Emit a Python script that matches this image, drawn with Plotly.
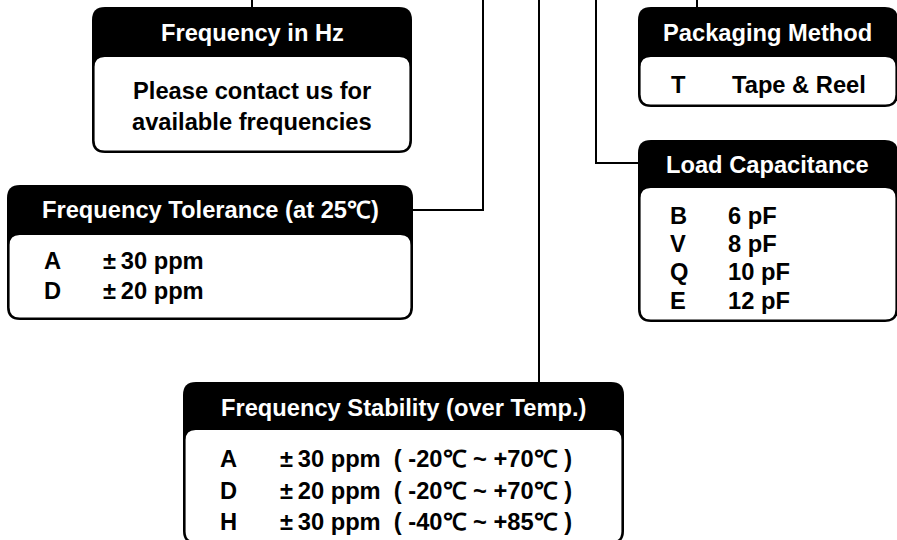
import plotly.graph_objects as go

# ---- content ----
freq_title = "Frequency in Hz"
freq_lines = ["Please contact us for", "available frequencies"]

tol_title = "Frequency Tolerance (at 25℃)"
tol_codes = ["A", "D"]
tol_values = ["±\u200930 ppm", "±\u200920 ppm"]

pack_title = "Packaging Method"
pack_codes = ["T"]
pack_values = ["Tape & Reel"]

load_title = "Load Capacitance"
load_codes = ["B", "V", "Q", "E"]
load_values = ["6 pF", "8 pF", "10 pF", "12 pF"]

stab_title = "Frequency Stability (over Temp.)"
stab_codes = ["A", "D", "H"]
stab_values = ["±\u200930 ppm  ( -20℃ ~ +70℃ )",
               "±\u200920 ppm  ( -20℃ ~ +70℃ )",
               "±\u200930 ppm  ( -40℃ ~ +85℃ )"]

# ---- layout geometry (pixel space, y down) ----
W, H = 897, 540
FONT = "Arial, Liberation Sans, sans-serif"
FS = 23.7


def rrect(x0, y0, x1, y1, r):
    return (f"M {x0+r},{y0} L {x1-r},{y0} Q {x1},{y0} {x1},{y0+r} "
            f"L {x1},{y1-r} Q {x1},{y1} {x1-r},{y1} L {x0+r},{y1} "
            f"Q {x0},{y1} {x0},{y1-r} L {x0},{y0+r} Q {x0},{y0} {x0+r},{y0} Z")


shapes = []
annotations = []


def box(x0, y0, x1, y1, hb, title, tx, ty):
    b = 2.6
    shapes.append(dict(type="path", path=rrect(x0, y0, x1, y1, 13),
                       fillcolor="black", line=dict(width=0), layer="above"))
    shapes.append(dict(type="path", path=rrect(x0 + b, hb, x1 - b, y1 - b, 10),
                       fillcolor="white", line=dict(width=0), layer="above"))
    annotations.append(dict(x=tx, y=ty, text=f"<b>{title}</b>", showarrow=False,
                            xanchor="center", yanchor="middle",
                            font=dict(family=FONT, size=FS, color="white")))


def text(x, y, s, anchor="left"):
    annotations.append(dict(x=x, y=y, text=f"<b>{s}</b>", showarrow=False,
                            xanchor=anchor, yanchor="middle",
                            font=dict(family=FONT, size=FS, color="black")))


def line(pts):
    p = "M " + " L ".join(f"{x},{y}" for x, y in pts)
    shapes.append(dict(type="path", path=p, line=dict(color="black", width=2),
                       layer="above"))


# connectors
line([(252, 0), (252, 9)])
line([(412, 210), (483, 210), (483, 0)])
line([(539, 0), (539, 383)])
line([(639, 163), (596, 163), (596, 0)])
line([(697, 0), (697, 9)])

# boxes
box(92, 7, 412, 153, 57, freq_title, 252, 33)
for i, s in enumerate(freq_lines):
    text(252, 91 + 31 * i, s, anchor="center")

box(7, 185, 413, 320, 235, tol_title, 210, 210)
for i, (c, v) in enumerate(zip(tol_codes, tol_values)):
    text(42, 261 + 30 * i, c)
    text(101, 261 + 30 * i, v)

box(638, 7, 898, 107, 57, pack_title, 767, 33)
for i, (c, v) in enumerate(zip(pack_codes, pack_values)):
    text(669, 85 + 28 * i, c)
    text(730, 85 + 28 * i, v)

box(638, 140, 898, 322, 188, load_title, 767, 165)
for i, (c, v) in enumerate(zip(load_codes, load_values)):
    text(668, 216 + 28.2 * i, c)
    text(726, 216 + 28.2 * i, v)

box(183, 382, 624, 544, 430, stab_title, 403, 408)
for i, (c, v) in enumerate(zip(stab_codes, stab_values)):
    text(218, 459 + 31.5 * i, c)
    text(278, 459 + 31.5 * i, v)

fig = go.Figure()
fig.update_layout(
    width=W, height=H, margin=dict(l=0, r=0, t=0, b=0),
    paper_bgcolor="white", plot_bgcolor="white",
    xaxis=dict(range=[0, W], visible=False, fixedrange=True),
    yaxis=dict(range=[H, 0], visible=False, fixedrange=True),
    shapes=shapes, annotations=annotations, showlegend=False,
)
fig.write_html("out.html",
               config={"displayModeBar": False},
               post_script="document.body.style.margin='0';"
                           "document.body.style.overflow='hidden';")
